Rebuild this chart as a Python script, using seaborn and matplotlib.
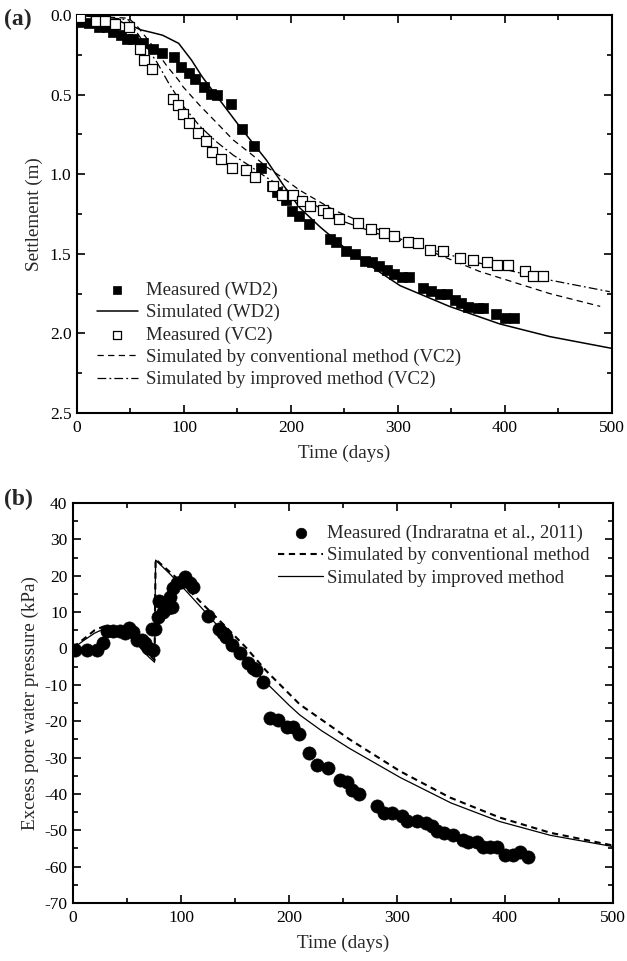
import matplotlib
matplotlib.use("Agg")
import matplotlib.pyplot as plt
import seaborn as sns
import pandas as pd
import numpy as np
from matplotlib.ticker import MultipleLocator

# ---------------- Panel (a) data ----------------
wd2_meas_t = [2.8, 11.5, 20.6, 27.7, 33.4, 40.8, 46.4, 52, 61.4, 70.7, 79.7, 90.4, 97.2, 105, 110.3,
              118.7, 125.2, 130.6, 144, 154.5, 165.7, 172.3, 182, 186.6, 195.3, 201, 207.5, 216.8,
              236.4, 242, 251.4, 259.8, 269.2, 275.4, 282.5, 290, 296.5, 303.4, 310.6, 323, 330.5,
              339.3, 345.5, 353.3, 358.9, 365.7, 375, 379.2, 391.3, 400, 408.4]
wd2_meas_s = [0.042, 0.048, 0.073, 0.073, 0.109, 0.126, 0.153, 0.153, 0.174, 0.216, 0.237, 0.266,
              0.325, 0.362, 0.40, 0.454, 0.498, 0.50, 0.561, 0.714, 0.823, 0.963, 1.074, 1.114,
              1.162, 1.229, 1.263, 1.313, 1.407, 1.428, 1.48, 1.503, 1.543, 1.553, 1.575, 1.602,
              1.627, 1.644, 1.644, 1.717, 1.732, 1.755, 1.755, 1.79, 1.807, 1.832, 1.843, 1.843,
              1.88, 1.906, 1.906]

vc2_meas_t = [2.8, 17.5, 26.2, 35.5, 48.6, 58.9, 62.6, 69.8, 90, 94.7, 98.8, 105, 112.8, 120.6,
              125.9, 134.3, 144.6, 158, 166.4, 183.5, 192, 202.3, 210, 217.8, 229.6, 235, 245,
              262.3, 274.4, 287, 296.5, 309.6, 319, 330, 342.3, 358, 369.8, 383, 392.8, 403.1,
              418.7, 426.5, 435.2]
vc2_meas_s = [0.01, 0.036, 0.036, 0.057, 0.073, 0.216, 0.283, 0.339, 0.528, 0.565, 0.622, 0.676,
              0.743, 0.791, 0.859, 0.906, 0.959, 0.974, 1.016, 1.074, 1.131, 1.131, 1.166, 1.2,
              1.225, 1.246, 1.283, 1.304, 1.346, 1.371, 1.388, 1.424, 1.434, 1.476, 1.482, 1.524,
              1.539, 1.553, 1.57, 1.57, 1.608, 1.637, 1.637]

wd2_sim_t = [0, 20, 40, 50, 60, 70, 80, 95, 107, 117, 131, 152, 177, 193, 208, 227, 255, 302,
             348, 395, 442, 500]
wd2_sim_s = [0.0, 0.015, 0.04, 0.065, 0.094, 0.11, 0.127, 0.178, 0.283, 0.388, 0.513, 0.70,
             0.911, 1.07, 1.21, 1.33, 1.49, 1.70, 1.83, 1.94, 2.02, 2.094]

vc2_conv_t = [0, 20, 48, 55, 68, 84, 95, 99, 115, 131, 146, 162, 177, 193, 208, 240, 300, 376,
              442, 489]
vc2_conv_s = [0.0, 0.01, 0.02, 0.06, 0.17, 0.32, 0.41, 0.45, 0.57, 0.68, 0.785, 0.869, 0.953,
              1.026, 1.10, 1.225, 1.40, 1.61, 1.75, 1.83]

vc2_imp_t = [0, 20, 48, 60, 75, 85, 99, 115, 131, 146, 162, 177, 193, 208, 224, 246, 286, 302,
             349, 377, 395, 442, 498]
vc2_imp_s = [0.0, 0.01, 0.03, 0.15, 0.30, 0.42, 0.57, 0.70, 0.80, 0.88, 0.95, 1.02, 1.085, 1.15,
             1.20, 1.29, 1.385, 1.415, 1.508, 1.56, 1.59, 1.665, 1.738]

# ---------------- Panel (b) data ----------------
pwp_meas_t = [1.9, 13.3, 21.9, 28.1, 31.8, 37.3, 43.5, 48.1, 52.1, 55.8, 58.9, 63.6, 66.7, 69.7,
              73.8, 72.8, 75.9, 78.4, 79.9, 83.6, 88.2, 91.4, 89.8, 92.3, 96, 99.7, 103.7, 108.3,
              110.8, 125.3, 135.5, 138.6, 141.7, 146.9, 154.6, 162.3, 166.4, 169.4, 176.2, 182.4,
              190.1, 197.9, 203.4, 209.3, 218.8, 225.6, 236.4, 247.2, 253.4, 258, 265.1, 281.2,
              287.9, 295.1, 304.3, 309.6, 318.2, 326.9, 332.1, 336.7, 343.5, 351.6, 360.8, 366,
              373.8, 379.9, 386.1, 392.9, 400, 407.1, 413.9, 421.6]
pwp_meas_v = [-0.4, -0.4, -0.4, 1.6, 4.9, 4.9, 4.9, 4.2, 5.5, 4.6, 2.3, 2.3, 1.4, 0.0, -0.4, 5.3,
              5.3, 8.7, 13.1, 10.1, 11.0, 11.3, 14.2, 16.5, 17.9, 18.4, 19.7, 17.9, 17.0, 9.0, 5.3,
              4.2, 3.1, 0.9, -1.2, -3.9, -5.5, -5.9, -9.1, -19.2, -19.7, -21.7, -21.7, -23.5,
              -28.8, -32.1, -33.0, -36.2, -36.6, -38.8, -40.1, -43.3, -45.3, -45.3, -46.1, -47.4,
              -47.4, -48.1, -48.8, -50.1, -50.7, -51.3, -52.7, -53.3, -53.3, -54.7, -54.7, -54.5,
              -56.8, -56.8, -55.9, -57.3]

pwp_conv_t = [0, 10, 20, 28, 40, 50, 55, 60, 65, 70, 75.5, 76.5, 100, 118, 140, 160, 179, 210,
              235, 256, 303, 349, 395, 442, 500]
pwp_conv_v = [0.3, 2.6, 5.0, 6.0, 5.9, 5.5, 3.8, 1.8, 0.0, -1.5, -3.2, 24.5, 18.3, 12.8, 6.4,
              0.3, -6.2, -15.4, -20.6, -25.0, -33.8, -41.0, -46.5, -50.7, -54.2]

pwp_imp_t = [0, 10, 20, 28, 40, 50, 55, 60, 65, 70, 75.5, 76.5, 90, 100, 110, 125, 140, 155, 166,
             176, 200, 210, 230, 256, 303, 350, 395, 442, 500]
pwp_imp_v = [0.0, 2.2, 4.2, 5.3, 5.3, 4.8, 3.0, 1.0, -0.8, -2.3, -3.8, 24.3, 20.4, 17.3, 14.1,
             9.2, 4.2, -0.9, -4.9, -8.6, -15.6, -18.3, -22.6, -27.5, -35.5, -42.5, -47.6, -51.4,
             -54.5]

# ---------------- Style ----------------
sns.set_theme(style="ticks")
plt.rcParams["font.family"] = ["Liberation Serif", "DejaVu Serif"]
plt.rcParams["axes.unicode_minus"] = False

fig = plt.figure(figsize=(6.27, 9.61), dpi=100)
ax1 = fig.add_axes([0.1228, 0.5702, 0.8532, 0.4142])
ax2 = fig.add_axes([0.1164, 0.0604, 0.8613, 0.4162])

def style_axes(ax):
    for sp in ax.spines.values():
        sp.set_linewidth(1.5)
        sp.set_color("black")
        sp.set_visible(True)
    ax.tick_params(which="both", direction="in", top=True, right=True, colors="black",
                   labelsize=12.5, width=1.2)
    ax.tick_params(which="major", length=6)
    ax.tick_params(which="minor", length=3.5)
    ax.tick_params(axis="x", pad=5)
    ax.tick_params(axis="y", pad=4)
    ax.grid(False)
    ax.set_facecolor("white")

# ---------------- Panel (a) ----------------
kw_line = dict(estimator=None, sort=False, ax=ax1, color="black")
sns.scatterplot(x=wd2_meas_t, y=wd2_meas_s, ax=ax1, marker="s", s=42, color="black",
                edgecolor="black", linewidth=0.5, label="Measured (WD2)", zorder=3)
sns.lineplot(x=wd2_sim_t, y=wd2_sim_s, linewidth=1.1, label="Simulated (WD2)", **kw_line)
sns.scatterplot(x=vc2_meas_t, y=vc2_meas_s, ax=ax1, marker="s", s=42, facecolor="white",
                edgecolor="black", linewidth=0.9, label="Measured (VC2)", zorder=3)
sns.lineplot(x=vc2_conv_t, y=vc2_conv_s, linewidth=0.9,
             label="Simulated by conventional method (VC2)", **kw_line)
ax1.lines[-1].set_linestyle((0, (5, 3.5)))
sns.lineplot(x=vc2_imp_t, y=vc2_imp_s, linewidth=0.9,
             label="Simulated by improved method (VC2)", **kw_line)
ax1.lines[-1].set_linestyle((0, (7, 2.5, 1.5, 2.5)))

ax1.set_xlim(0, 500)
ax1.set_ylim(2.5, 0.0)
ax1.xaxis.set_major_locator(MultipleLocator(100))
ax1.xaxis.set_minor_locator(MultipleLocator(50))
ax1.yaxis.set_major_locator(MultipleLocator(0.5))
ax1.yaxis.set_minor_locator(MultipleLocator(0.25))
ax1.yaxis.set_major_formatter(matplotlib.ticker.FormatStrFormatter("%.1f"))
style_axes(ax1)
ax1.set_xlabel("Time (days)", fontsize=13.8, labelpad=6)
ax1.set_ylabel("Settlement (m)", fontsize=13.8, labelpad=5)
ax1.legend(loc="lower left", bbox_to_anchor=(0.037, 0.062), frameon=False,
           fontsize=13.5, handlelength=2.2, handletextpad=0.4, labelspacing=0.27,
           borderaxespad=0, borderpad=0, markerscale=0.8)
fig.text(0.006, 0.991, "(a)", fontsize=17, fontweight="bold", va="top", ha="left")

# ---------------- Panel (b) ----------------
sns.scatterplot(x=pwp_meas_t, y=pwp_meas_v, ax=ax2, marker="o", s=90, color="black",
                edgecolor="black", linewidth=0.5, label="Measured (Indraratna et al., 2011)",
                zorder=3)
sns.lineplot(x=pwp_conv_t, y=pwp_conv_v, ax=ax2, color="black", linewidth=1.5,
             estimator=None, sort=False, label="Simulated by conventional method")
ax2.lines[-1].set_linestyle((0, (3, 2.2)))
sns.lineplot(x=pwp_imp_t, y=pwp_imp_v, ax=ax2, color="black", linewidth=0.9,
             estimator=None, sort=False, label="Simulated by improved method")

ax2.set_xlim(0, 500)
ax2.set_ylim(-70, 40)
ax2.xaxis.set_major_locator(MultipleLocator(100))
ax2.xaxis.set_minor_locator(MultipleLocator(50))
ax2.yaxis.set_major_locator(MultipleLocator(10))
ax2.yaxis.set_minor_locator(MultipleLocator(5))
style_axes(ax2)
ax2.set_xlabel("Time (days)", fontsize=13.8, labelpad=6)
ax2.set_ylabel("Excess pore water pressure (kPa)", fontsize=13.8, labelpad=4)
ax2.legend(loc="upper left", bbox_to_anchor=(0.38, 0.945), frameon=False,
           fontsize=13.5, handlelength=2.4, handletextpad=0.2, labelspacing=0.27,
           borderaxespad=0, borderpad=0, markerscale=0.8)
fig.text(0.006, 0.4915, "(b)", fontsize=17, fontweight="bold", va="top", ha="left")

fig.savefig("out.png", dpi=100, facecolor="white")
